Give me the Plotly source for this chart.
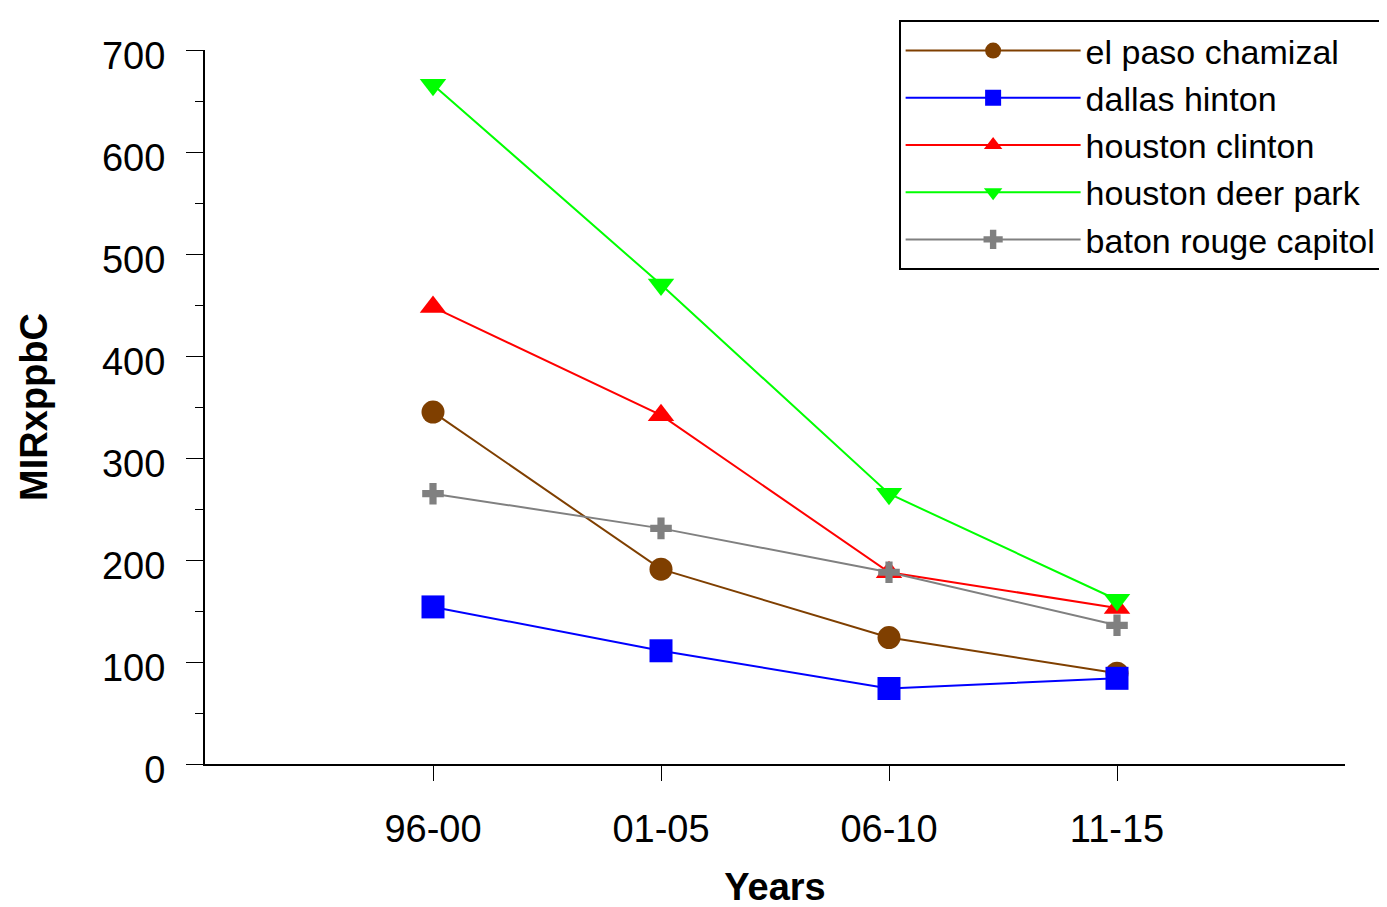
import plotly.graph_objects as go

categories = ["96-00", "01-05", "06-10", "11-15"]
el_paso = [345, 191, 124, 89]
dallas = [154, 111, 74, 84]
houston_clinton = [448, 342, 188, 153]
houston_deer_park = [666, 470, 265, 161]
baton_rouge = [265, 231, 188, 136]

x_idx = list(range(len(categories)))

series = [
    ("el paso chamizal", el_paso, "#7F3F00", "circle", 23),
    ("dallas hinton", dallas, "#0000FF", "square", 23),
    ("houston clinton", houston_clinton, "#FF0000", "triangle-up", 23),
    ("houston deer park", houston_deer_park, "#00FF00", "triangle-down", 23),
    ("baton rouge capitol", baton_rouge, "#808080", "cross", 18),
]

fig = go.Figure()
for name, vals, col, sym, sz in series:
    fig.add_trace(go.Scatter(
        x=x_idx, y=vals, name=name, mode="lines+markers",
        line=dict(color=col, width=2),
        marker=dict(symbol=sym, size=sz, color=col, line=dict(width=0)),
    ))

font_family = "Liberation Sans, Arial, sans-serif"
fig.update_layout(
    width=1387, height=907,
    margin=dict(l=197, r=39, t=32, b=151),
    plot_bgcolor="white", paper_bgcolor="white",
    font=dict(family=font_family, size=38, color="black"),
    showlegend=True,
    legend=dict(
        x=1.033, xref="paper", xanchor="right", y=1.042, yanchor="top",
        bordercolor="black", borderwidth=2, bgcolor="white",
        font=dict(size=34), itemwidth=175, tracegroupgap=0,
    ),
    xaxis=dict(
        range=[-1, 4], tickvals=x_idx, ticktext=categories,
        showline=True, linecolor="black", linewidth=2,
        ticks="outside", ticklen=15, tickwidth=1, tickcolor="black",
        showgrid=False, zeroline=False, mirror=False, automargin=False,
        title=dict(text="<b>Years</b>", font=dict(size=38), standoff=25),
        ticklabelstandoff=15,
    ),
    yaxis=dict(
        range=[0, 700], dtick=100, tick0=0,
        showline=True, linecolor="black", linewidth=2,
        ticks="outside", ticklen=17, tickwidth=1, tickcolor="black",
        minor=dict(dtick=50, ticks="outside", ticklen=8, tickcolor="black", showgrid=False),
        showgrid=False, zeroline=False, mirror=False, automargin=False,
        title=dict(text="<b>MIRxppbC</b>", font=dict(size=38), standoff=43),
        ticklabelstandoff=13, ticklabelshift=6,
    ),
)

fig.write_html("out.html")
